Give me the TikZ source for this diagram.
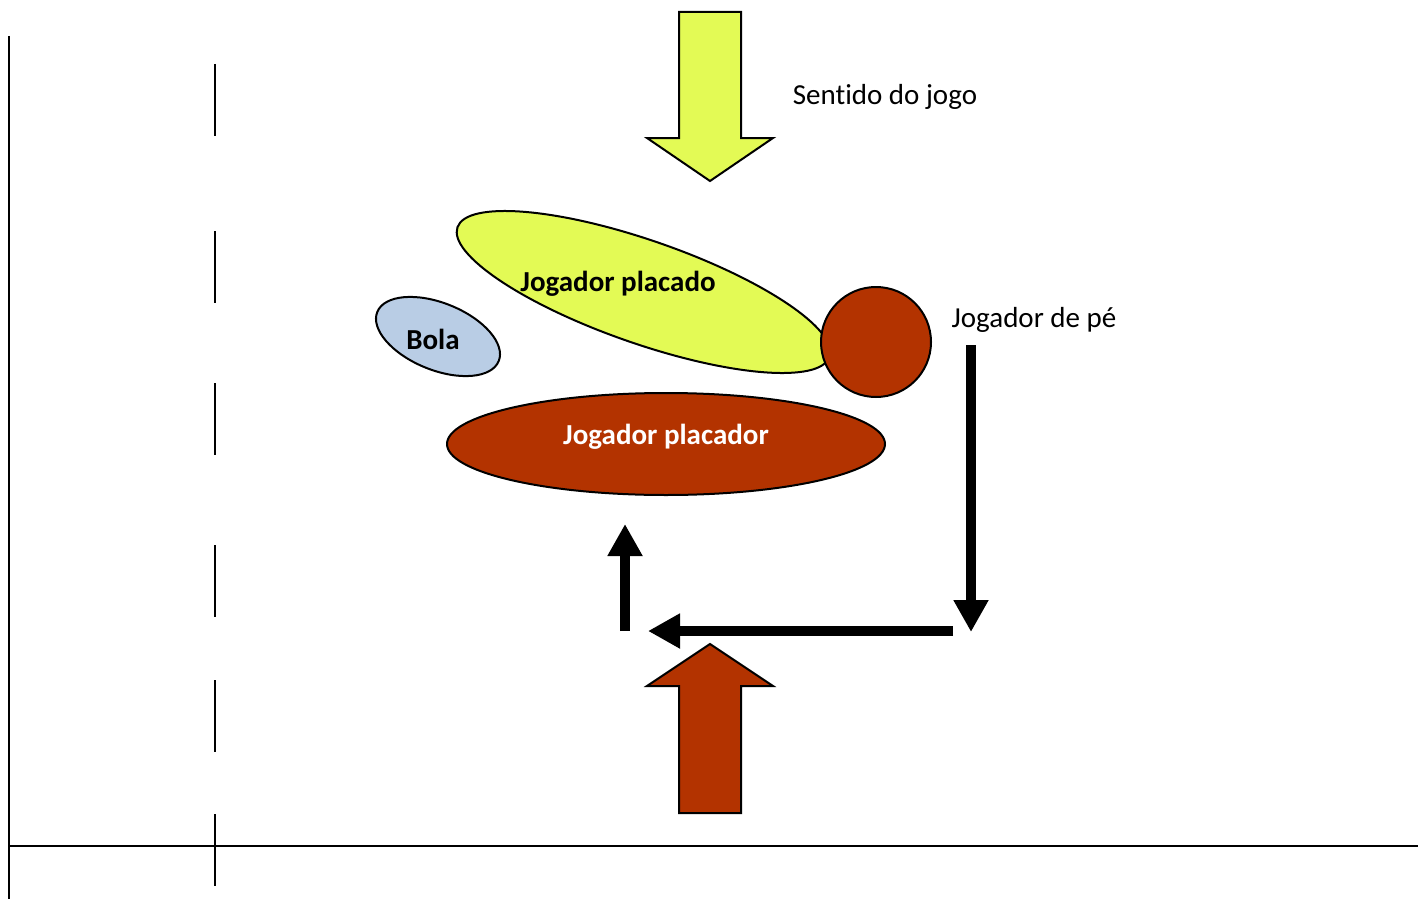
\documentclass[tikz,border=0pt]{standalone}
\usepackage{fontspec}
\setmainfont{Carlito}[Ligatures={NoCommon}]
\usetikzlibrary{arrows.meta,shapes.geometric}
\definecolor{lime}{HTML}{E3FA55}
\definecolor{rust}{HTML}{B33300}
\definecolor{pale}{HTML}{B9CDE5}
\begin{document}
\begin{tikzpicture}[x=1pt,y=-1pt,
  fieldline/.style={line width=2pt,black},
  shapeline/.style={draw=black,line width=2pt},
  blockarrow/.style={shapeline,line join=miter},
  lbl/.style={font=\fontsize{29}{35}\selectfont,anchor=base,inner sep=0pt},
  blbl/.style={lbl,font=\fontsize{29}{35}\selectfont\bfseries},
  movearrow/.style={line width=10pt,-{Triangle[length=32pt,width=33pt]}},
]
\useasboundingbox (0,0) rectangle (1418,899);
% field lines
\draw[fieldline] (9,36) -- (9,899);
\draw[fieldline] (9,846) -- (1418,846);
\foreach \a/\b in {64/136,231/303,383/455,545/617,680/752,814/886}
  \draw[fieldline] (215,\a) -- (215,\b);
% block arrows
\draw[blockarrow,fill=lime] (679,12) -- (741,12) -- (741,138) -- (773,138) -- (710,181) -- (647,138) -- (679,138) -- cycle;
\draw[blockarrow,fill=rust] (679,813) -- (741,813) -- (741,686) -- (773,686) -- (710,644) -- (647,686) -- (679,686) -- cycle;
% players
\node[shapeline,fill=rust,ellipse,minimum width=438pt,minimum height=102pt] (placador) at (666,444) {};
\node[shapeline,fill=lime,ellipse,minimum width=394pt,minimum height=103pt,rotate=-19.2] (placado) at (643.5,292) {};
\node[shapeline,fill=rust,circle,minimum size=110pt] (pe) at (876,342) {};
\node[shapeline,fill=pale,ellipse,minimum width=131pt,minimum height=67pt,rotate=-22] (bola) at (438,336.5) {};
% labels
\node[lbl] (tsentido) at (885,104) {Sent\kern0pt ido do jogo};
\node[lbl] (tpe) at (1034,327) {Jogador de pé};
\node[blbl] (tplacado) at (618,291) {Jogador placado};
\node[blbl] (tbola) at (433,349) {Bola};
\node[blbl,text=white] (tplacador) at (666,444) {Jogador placador};
% movement arrows
\coordinate (m1) at (971,345);
\coordinate (m2) at (971,632);
\coordinate (m3) at (953,631);
\coordinate (m4) at (648,631);
\coordinate (m5) at (625,631);
\coordinate (m6) at (625,524);
\draw[movearrow] (m1) -- (m2);
\draw[movearrow] (m3) -- (m4);
\draw[movearrow] (m5) -- (m6);
\end{tikzpicture}
\end{document}
